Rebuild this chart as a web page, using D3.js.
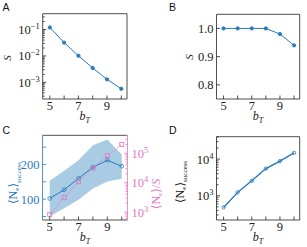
<!DOCTYPE html>
<html>
<head>
<meta charset="utf-8">
<script src="https://cdn.jsdelivr.net/npm/d3@7"></script>
<style>
  body { margin: 0; background: #fff; }
  svg { display: block; }
  text { font-family: "Liberation Serif", "DejaVu Serif", serif; }
  text.letter { font-family: "Liberation Sans", Arial, sans-serif; }
</style>
</head>
<body>
<svg id="chart" width="307" height="247"></svg>
<script>
// data
var bT = [5, 6, 7, 8, 9, 10];
var majorX = [5, 7, 9];
var survivalA = [0.12, 0.032, 0.0102, 0.0035, 0.0013, 0.00057];
var survivalB = [1.0, 1.0, 1.0, 1.0, 0.98, 0.94];
var neMean = [102, 127, 160, 192, 212, 195];
var neLow = [50, 74, 98, 131, 151, 159];
var neHigh = [153, 182, 212, 255, 272, 229];
var neRatio = [820, 3100, 10700, 31000, 83000, 200000];
var neAll = [480, 1240, 2560, 5500, 8800, 14800];
var neAllLow = [455, 1180, 2440, 5200, 8400, 14000];
var neAllHigh = [505, 1300, 2690, 5800, 9250, 15600];
var linTicksB = [0.8, 0.9, 1.0];
var linTicksC = [50, 100, 150, 200, 250];
var linLabelsC = [100, 200];

var blue = "#2a7ab9", band = "#a9cce4", pink = "#e377c2", ink = "#222";
var svg = d3.select("#chart");

function logMinor(scale){
	var d = scale.domain(), out = [];
	for (var k = Math.floor(Math.log10(d[0])); k <= Math.ceil(Math.log10(d[1])); k++){
		for (var m = 2; m <= 9; m++){
			var v = m * Math.pow(10, k);
			if (v >= d[0] && v <= d[1]) out.push(v);
		}
	}
	return out;
}
function logMajor(scale){
	var d = scale.domain(), out = [];
	for (var k = Math.ceil(Math.log10(d[0])); k <= Math.floor(Math.log10(d[1])); k++) out.push(Math.pow(10, k));
	return out;
}

function frame(b, colors){
	colors = colors || {};
	var g = svg.append("g");
	g.append("line").attr("x1", b.l).attr("x2", b.r).attr("y1", b.t).attr("y2", b.t).attr("stroke", ink).attr("stroke-width", 0.8);
	g.append("line").attr("x1", b.l).attr("x2", b.r).attr("y1", b.b).attr("y2", b.b).attr("stroke", ink).attr("stroke-width", 0.8);
	g.append("line").attr("x1", b.l).attr("x2", b.l).attr("y1", b.t).attr("y2", b.b).attr("stroke", colors.left || ink).attr("stroke-width", 0.8);
	g.append("line").attr("x1", b.r).attr("x2", b.r).attr("y1", b.t).attr("y2", b.b).attr("stroke", colors.right || ink).attr("stroke-width", 0.8);
}

function xAxis(x, b){
	var g = svg.append("g");
	g.selectAll("line").data(bT).enter().append("line")
		.attr("x1", function(d){ return x(d); }).attr("x2", function(d){ return x(d); })
		.attr("y1", b.b).attr("y2", b.b - 3.5)
		.attr("stroke", ink).attr("stroke-width", 0.8);
	g.selectAll("text").data(majorX).enter().append("text")
		.attr("x", function(d){ return x(d); }).attr("y", b.b + 10.5)
		.attr("text-anchor", "middle").attr("font-size", 12.5).attr("fill", ink)
		.text(function(d){ return d; });
	var lab = g.append("text").attr("x", (b.l + b.r) / 2).attr("y", b.b + 21)
		.attr("text-anchor", "middle").attr("font-size", 12).attr("font-style", "italic").attr("fill", ink);
	lab.append("tspan").text("b");
	lab.append("tspan").attr("font-size", 8).attr("dy", 2.5).text("T");
}

function yTicks(ticks, y, xpos, dir, len, color){
	svg.append("g").selectAll("line").data(ticks).enter().append("line")
		.attr("x1", xpos).attr("x2", xpos + dir * len)
		.attr("y1", function(d){ return y(d); }).attr("y2", function(d){ return y(d); })
		.attr("stroke", color).attr("stroke-width", 0.8);
}

function logLabels(ticks, y, xpos, anchor, color){
	var t = svg.append("g").selectAll("text").data(ticks).enter().append("text")
		.attr("x", xpos).attr("y", function(d){ return y(d) + 4.5; })
		.attr("text-anchor", anchor).attr("font-size", 12.5).attr("fill", color);
	t.append("tspan").text("10");
	t.append("tspan").attr("font-size", 8.5).attr("dy", -5)
		.text(function(d){ return String(Math.round(Math.log10(d))).replace("-", "\u2212"); });
}

function neLabel(xb, yc, color, suffix){
	var t = svg.append("text").attr("transform", "translate(" + xb + "," + yc + ") rotate(-90)")
		.attr("text-anchor", "middle").attr("font-size", 12).attr("fill", color);
	t.append("tspan").text("\u27e8N");
	t.append("tspan").attr("font-size", 7).attr("dy", 2).text("e");
	t.append("tspan").attr("dy", -2).text("\u27e9");
	if (suffix === "success"){
		t.append("tspan").attr("font-size", 7).attr("dy", 3.5).text("success");
	} else {
		t.append("tspan").text("/");
		t.append("tspan").attr("font-style", "italic").text("S");
	}
}

function sLabel(xb, yc){
	svg.append("text").attr("transform", "translate(" + xb + "," + yc + ") rotate(-90)")
		.attr("text-anchor", "middle").attr("font-size", 11).attr("font-style", "italic").attr("fill", ink).text("S");
}

function panelLetter(txt, x, y){
	svg.append("text").attr("class", "letter").attr("x", x).attr("y", y)
		.attr("font-size", 10.5).attr("fill", "#111").text(txt);
}

function series(x, y, vals, color, opts){
	opts = opts || {};
	var line = d3.line().x(function(d, i){ return x(bT[i]); }).y(function(d){ return y(d); });
	svg.append("path").datum(vals).attr("d", line).attr("fill", "none")
		.attr("stroke", color).attr("stroke-width", opts.width || 1)
		.attr("stroke-dasharray", opts.dash || null);
	var g = svg.append("g");
	if (opts.square){
		g.selectAll("rect").data(vals).enter().append("rect")
			.attr("x", function(d, i){ return x(bT[i]) - 2; }).attr("y", function(d){ return y(d) - 2; })
			.attr("width", 4).attr("height", 4)
			.attr("fill", "none").attr("stroke", color).attr("stroke-width", 0.8);
	} else {
		g.selectAll("circle").data(vals).enter().append("circle")
			.attr("cx", function(d, i){ return x(bT[i]); }).attr("cy", function(d){ return y(d); })
			.attr("r", opts.r || 1.7)
			.attr("fill", opts.open ? "none" : color).attr("stroke", color).attr("stroke-width", 0.8);
	}
}

function area(x, y, lo, hi, color){
	var a = d3.area().x(function(d, i){ return x(bT[i]); })
		.y0(function(d, i){ return y(lo[i]); }).y1(function(d){ return y(d); });
	svg.append("path").datum(hi).attr("d", a).attr("fill", color);
}

// ---- A ----
var bA = {l: 42.7, r: 127, t: 13.7, b: 99};
var xA = d3.scaleLinear().domain([4.5, 10.4]).range([bA.l, bA.r]);
var yA = d3.scaleLog().domain([Math.pow(10, -3.63), Math.pow(10, -0.4)]).range([bA.b, bA.t]);
series(xA, yA, survivalA, blue);
frame(bA);
xAxis(xA, bA);
yTicks(logMinor(yA), yA, bA.l, 1, 2, ink);
yTicks(logMajor(yA), yA, bA.l, 1, 3.5, ink);
logLabels(logMajor(yA), yA, bA.l - 3, "end", ink);
sLabel(10.5, 58);
panelLetter("A", 2.5, 10.7);

// ---- B ----
var bB = {l: 216.5, r: 299.7, t: 14.3, b: 99};
var xB = d3.scaleLinear().domain([4.5, 10.4]).range([bB.l, bB.r]);
var yB = d3.scaleLinear().domain([0.75, 1.05]).range([bB.b, bB.t]);
series(xB, yB, survivalB, blue);
frame(bB);
xAxis(xB, bB);
yTicks(linTicksB, yB, bB.l, 1, 3.5, ink);
svg.append("g").selectAll("text").data(linTicksB).enter().append("text")
	.attr("x", bB.l - 3).attr("y", function(d){ return yB(d) + 4.5; })
	.attr("text-anchor", "end").attr("font-size", 12.5).attr("fill", ink)
	.text(function(d){ return d.toFixed(1); });
sLabel(192.5, 57);
panelLetter("B", 169, 10.7);

// ---- C ----
var bC = {l: 42.5, r: 127.5, t: 135.3, b: 220};
var xC = d3.scaleLinear().domain([4.5, 10.4]).range([bC.l, bC.r]);
var yC = d3.scaleLinear().domain([40, 284]).range([bC.b, bC.t]);
var yC2 = d3.scaleLog().domain([Math.pow(10, 2.73), Math.pow(10, 5.61)]).range([bC.b, bC.t]);
area(xC, yC, neLow, neHigh, band);
series(xC, yC, neMean, blue, {open: true, r: 1.9});
series(xC, yC2, neRatio, pink, {square: true, dash: "2,1.5", width: 0.9});
frame(bC, {left: blue, right: pink});
xAxis(xC, bC);
yTicks(linTicksC, yC, bC.l, 1, 3.5, blue);
svg.append("g").selectAll("text").data(linLabelsC).enter().append("text")
	.attr("x", bC.l - 3).attr("y", function(d){ return yC(d) + 4.5; })
	.attr("text-anchor", "end").attr("font-size", 12.5).attr("fill", blue)
	.text(function(d){ return d; });
yTicks(logMinor(yC2), yC2, bC.r, -1, 2, pink);
yTicks(logMajor(yC2), yC2, bC.r, -1, 3.5, pink);
logLabels(logMajor(yC2), yC2, bC.r + 4, "start", pink);
neLabel(17, 183, blue, "success");
neLabel(160, 194, pink, "ratio");
panelLetter("C", 2.5, 134);

// ---- D ----
var bD = {l: 216.5, r: 299.7, t: 136.7, b: 220};
var xD = d3.scaleLinear().domain([4.5, 10.4]).range([bD.l, bD.r]);
var yD = d3.scaleLog().domain([Math.pow(10, 2.34), Math.pow(10, 4.61)]).range([bD.b, bD.t]);
area(xD, yD, neAllLow, neAllHigh, band);
series(xD, yD, neAll, blue, {open: true, r: 1.7, width: 1.2});
frame(bD);
xAxis(xD, bD);
yTicks(logMinor(yD), yD, bD.l, 1, 2, ink);
yTicks(logMajor(yD), yD, bD.l, 1, 3.5, ink);
logLabels(logMajor(yD), yD, bD.l - 3, "end", ink);
neLabel(183.5, 182, ink, "success");
panelLetter("D", 169, 134);
</script>
</body>
</html>
